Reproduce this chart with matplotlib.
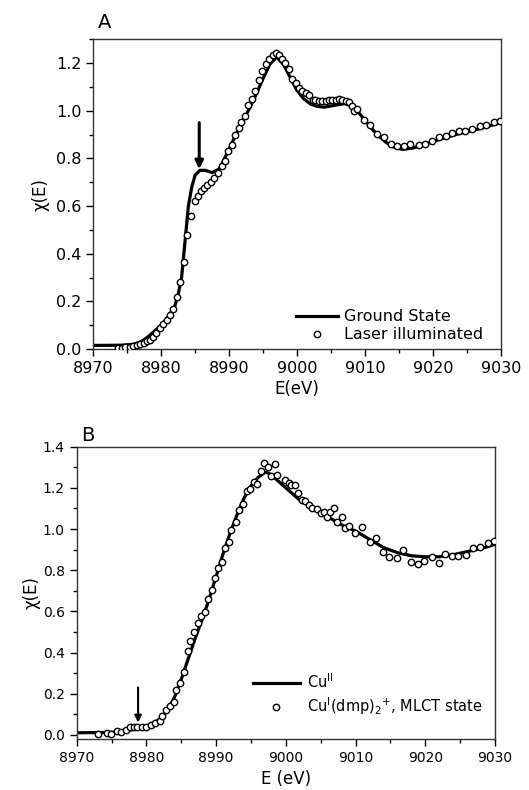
import matplotlib
matplotlib.use("Agg")
import matplotlib.pyplot as plt
from matplotlib.ticker import MultipleLocator
from matplotlib.lines import Line2D

plt.rcParams['font.family'] = ['DejaVu Sans']
plt.rcParams['mathtext.fontset'] = 'dejavusans'

# ---- panel A: ground state (line) vs laser illuminated (circles)
a_line_e = [8970, 8974, 8976, 8977, 8978, 8979, 8980, 8981, 8982, 8982.5, 8983, 8983.5,
            8984, 8984.5, 8985, 8985.7, 8986.5, 8987.5, 8988.5, 8989, 8990, 8991, 8992,
            8993, 8994, 8995, 8996, 8997, 8998, 8999, 9000, 9001, 9002, 9003, 9004,
            9005, 9006, 9007, 9008, 9009, 9010, 9011, 9012, 9013, 9014, 9015.5, 9017,
            9019, 9021, 9024, 9027, 9030]
a_line_y = [0.015, 0.016, 0.02, 0.03, 0.05, 0.075, 0.10, 0.135, 0.18, 0.23, 0.30, 0.45,
            0.60, 0.68, 0.73, 0.75, 0.75, 0.74, 0.755, 0.78, 0.84, 0.90, 0.955,
            1.01, 1.07, 1.135, 1.195, 1.225, 1.195, 1.14, 1.085, 1.05, 1.028, 1.018, 1.015,
            1.02, 1.025, 1.03, 1.02, 0.995, 0.96, 0.925, 0.895, 0.87, 0.85, 0.838, 0.843,
            0.86, 0.88, 0.905, 0.925, 0.95]

a_pts_e = [8973.7, 8974.2, 8974.7, 8975.4, 8975.9, 8976.4, 8976.9, 8977.5, 8977.9, 8978.3,
           8978.8, 8979.3, 8979.8, 8980.3, 8980.8, 8981.3, 8981.8, 8982.3, 8982.8, 8983.4,
           8983.8, 8984.4, 8985.0, 8985.4, 8985.8, 8986.3, 8986.8, 8987.3, 8987.8, 8988.4,
           8988.9, 8989.4, 8989.9, 8990.4, 8990.9, 8991.4, 8991.8, 8992.3, 8992.8, 8993.3,
           8993.8, 8994.4, 8994.9, 8995.4, 8995.9, 8996.4, 8996.9, 8997.3, 8997.8, 8998.3,
           8998.8, 8999.3, 8999.8, 9000.3, 9000.8, 9001.3, 9001.8, 9002.3, 9002.7, 9003.2,
           9003.7, 9004.2, 9004.7, 9005.2, 9005.7, 9006.2, 9006.7, 9007.2, 9007.7, 9008.1,
           9008.4, 9008.9, 9009.9, 9010.8, 9011.8, 9012.8, 9013.8, 9014.8, 9015.8, 9016.7,
           9018.0, 9018.8, 9019.9, 9020.9, 9021.9, 9022.9, 9023.9, 9024.8, 9025.8, 9026.9,
           9027.9, 9029.0, 9029.9]
a_pts_y = [0.006, 0.006, 0.01, 0.01, 0.013, 0.017, 0.02, 0.027, 0.032, 0.038,
           0.049, 0.069, 0.087, 0.105, 0.12, 0.143, 0.167, 0.22, 0.28, 0.367,
           0.48, 0.557, 0.62, 0.643, 0.664, 0.675, 0.69, 0.70, 0.717, 0.74,
           0.769, 0.79, 0.833, 0.857, 0.90, 0.927, 0.951, 0.979, 1.024, 1.049,
           1.084, 1.13, 1.165, 1.197, 1.217, 1.234, 1.242, 1.232, 1.217, 1.20,
           1.176, 1.134, 1.116, 1.095, 1.081, 1.074, 1.064, 1.046, 1.043, 1.039,
           1.039, 1.039, 1.043, 1.046, 1.046, 1.049, 1.046, 1.042, 1.035, 1.021,
           0.997, 1.007, 0.962, 0.941, 0.903, 0.888, 0.861, 0.85, 0.85, 0.861,
           0.857, 0.861, 0.875, 0.889, 0.892, 0.906, 0.913, 0.917, 0.923, 0.934,
           0.941, 0.951, 0.959]

# ---- panel B: Cu(II) (line) vs Cu(I)(dmp)2+ MLCT state (circles)
b_line_e = [8970, 8975, 8977, 8979, 8980, 8981, 8982, 8983, 8984, 8985, 8986, 8987, 8988,
            8989, 8990, 8991, 8992, 8993, 8994, 8995, 8996, 8997, 8997.5, 8998, 8999,
            9000, 9002, 9004, 9006, 9008, 9010, 9012, 9014, 9016, 9018, 9020, 9022,
            9024, 9026, 9028, 9030]
b_line_y = [0.01, 0.012, 0.02, 0.03, 0.04, 0.055, 0.08, 0.12, 0.18, 0.27, 0.37, 0.47, 0.56,
            0.66, 0.77, 0.88, 0.98, 1.07, 1.15, 1.21, 1.25, 1.275, 1.272, 1.26, 1.23,
            1.20, 1.14, 1.10, 1.06, 1.02, 0.99, 0.95, 0.91, 0.885, 0.87, 0.865, 0.865,
            0.875, 0.89, 0.905, 0.925]

b_pts_e = [8973.1, 8974.4, 8974.9, 8975.8, 8976.4, 8977.1, 8977.6, 8978.2, 8978.7, 8979.3,
           8979.9, 8980.6, 8981.2, 8981.9, 8982.3, 8982.8, 8983.4, 8983.9, 8984.3, 8984.8,
           8985.4, 8985.9, 8986.3, 8986.8, 8987.4, 8987.9, 8988.4, 8988.9, 8989.4, 8989.9,
           8990.3, 8990.9, 8991.3, 8991.8, 8992.2, 8992.8, 8993.3, 8993.8, 8994.4, 8994.9,
           8995.4, 8995.9, 8996.4, 8996.9, 8997.5, 8997.9, 8998.4, 8998.7, 8999.9, 9000.4,
           9000.8, 9001.3, 9001.7, 9002.3, 9002.8, 9003.3, 9003.8, 9004.4, 9005.0, 9005.5,
           9005.9, 9006.4, 9006.9, 9007.3, 9008.0, 9008.5, 9009.1, 9009.9, 9010.9, 9012.0,
           9012.9, 9013.9, 9014.8, 9015.9, 9016.8, 9017.9, 9018.9, 9019.8, 9020.9, 9021.9,
           9022.8, 9023.8, 9024.7, 9025.8, 9026.9, 9027.9, 9029.0, 9029.8]
b_pts_y = [0.005, 0.011, 0.005, 0.019, 0.015, 0.024, 0.04, 0.036, 0.036, 0.036,
           0.04, 0.049, 0.057, 0.065, 0.092, 0.121, 0.138, 0.162, 0.218, 0.251,
           0.307, 0.405, 0.458, 0.502, 0.545, 0.578, 0.599, 0.66, 0.704, 0.761,
           0.809, 0.842, 0.906, 0.939, 0.995, 1.036, 1.092, 1.12, 1.186, 1.194,
           1.23, 1.217, 1.282, 1.319, 1.303, 1.257, 1.316, 1.262, 1.238, 1.225,
           1.214, 1.214, 1.173, 1.141, 1.138, 1.117, 1.10, 1.096, 1.079, 1.084,
           1.06, 1.084, 1.10, 1.036, 1.06, 1.003, 1.015, 0.979, 1.008, 0.939,
           0.955, 0.89, 0.866, 0.861, 0.898, 0.838, 0.829, 0.846, 0.866, 0.837,
           0.877, 0.869, 0.871, 0.874, 0.91, 0.914, 0.931, 0.942]

fig = plt.figure(figsize=(5.29, 7.9), dpi=100)
axA = fig.add_axes([0.1764, 0.5582, 0.7701, 0.3921])
axB = fig.add_axes([0.1450, 0.0646, 0.7907, 0.3700])

pt_style = dict(ls='none', marker='o', ms=4.6, mfc='white', mec='black', mew=1.0)


def style_axis(ax, ylim, tick_size):
    ax.set_xlim(8970, 9030)
    ax.set_ylim(*ylim)
    ax.xaxis.set_major_locator(MultipleLocator(10))
    ax.xaxis.set_minor_locator(MultipleLocator(5))
    ax.yaxis.set_major_locator(MultipleLocator(0.2))
    ax.yaxis.set_minor_locator(MultipleLocator(0.1))
    ax.yaxis.set_major_formatter(plt.FormatStrFormatter('%.1f'))
    ax.tick_params(which='both', direction='out', width=1.0, labelsize=tick_size)
    ax.tick_params(which='major', length=5)
    ax.tick_params(which='minor', length=3)
    for s in ax.spines.values():
        s.set_linewidth(1.0)
        s.set_color('#333333')


# panel A
axA.plot(a_line_e, a_line_y, color='black', lw=2.3, zorder=2)
axA.plot(a_pts_e, a_pts_y, zorder=3, **pt_style)
style_axis(axA, (0, 1.3), 11.5)
axA.set_xlabel('E(eV)', fontsize=12, labelpad=3)
axA.set_ylabel(u'χ(E)', fontsize=12, labelpad=5)
axA.annotate('', xy=(8985.6, 0.755), xytext=(8985.6, 0.95),
             arrowprops=dict(arrowstyle='-|>', lw=2.2, color='black', mutation_scale=12,
                             shrinkA=0, shrinkB=0))
axA.text(0.01, 1.025, 'A', transform=axA.transAxes, fontsize=14, va='bottom', ha='left')
hA = [Line2D([], [], color='black', lw=2.3),
      Line2D([], [], **pt_style)]
axA.legend(hA, ['Ground State', 'Laser illuminated'], loc='lower right',
           bbox_to_anchor=(0.985, -0.015), frameon=False, fontsize=11.5,
           handlelength=2.6, handletextpad=0.4, labelspacing=0.2, borderpad=0.2)

# panel B
axB.plot(b_line_e, b_line_y, color='black', lw=2.3, zorder=2)
axB.plot(b_pts_e, b_pts_y, zorder=3, **pt_style)
style_axis(axB, (-0.02, 1.4), 10)
axB.set_xlabel('E (eV)', fontsize=12, labelpad=4)
axB.set_ylabel(u'χ(E)', fontsize=12, labelpad=2)
axB.annotate('', xy=(8978.8, 0.06), xytext=(8978.8, 0.23),
             arrowprops=dict(arrowstyle='-|>', lw=1.5, color='black', mutation_scale=10,
                             shrinkA=0, shrinkB=0))
axB.text(0.01, 1.005, 'B', transform=axB.transAxes, fontsize=14, va='bottom', ha='left')
hB = [Line2D([], [], color='black', lw=2.3),
      Line2D([], [], **pt_style)]
axB.legend(hB, [r'Cu$^{\mathrm{II}}$', r'Cu$^{\mathrm{I}}$(dmp)$_2$$^{+}$, MLCT state'],
           loc='lower right', bbox_to_anchor=(0.995, 0.04), frameon=False, fontsize=10.5,
           handlelength=3.2, handletextpad=0.5, labelspacing=0.3, borderpad=0.2)

fig.savefig('out.png', dpi=100)
